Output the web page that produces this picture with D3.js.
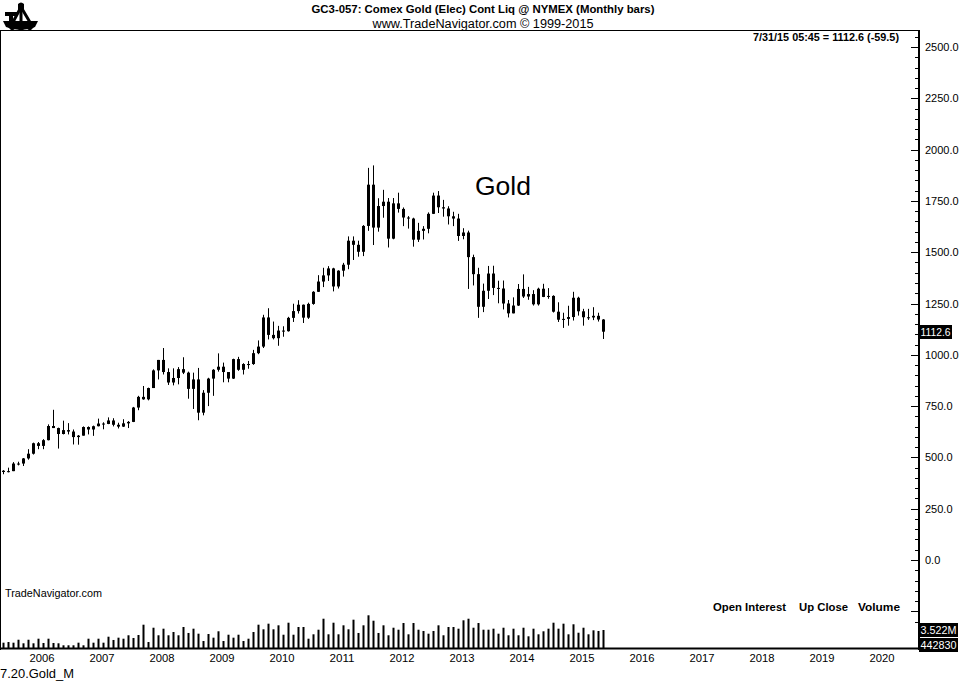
<!DOCTYPE html>
<html><head><meta charset="utf-8">
<script src="https://cdn.jsdelivr.net/npm/d3@7/dist/d3.min.js"></script>
<style>
html,body{margin:0;padding:0;background:#fff;}
svg{display:block;font-family:"Liberation Sans",Arial,sans-serif;}
</style></head>
<body>
<svg id="chart" width="967" height="681"></svg>
<script>
// ---------- DATA ----------
const startYear = 2005, startMonth = 7; // first bar: Jul 2005
const months = [
 "2005-07","2005-08","2005-09","2005-10","2005-11","2005-12",
 "2006-01","2006-02","2006-03","2006-04","2006-05","2006-06","2006-07","2006-08","2006-09","2006-10","2006-11","2006-12",
 "2007-01","2007-02","2007-03","2007-04","2007-05","2007-06","2007-07","2007-08","2007-09","2007-10","2007-11","2007-12",
 "2008-01","2008-02","2008-03","2008-04","2008-05","2008-06","2008-07","2008-08","2008-09","2008-10","2008-11","2008-12",
 "2009-01","2009-02","2009-03","2009-04","2009-05","2009-06","2009-07","2009-08","2009-09","2009-10","2009-11","2009-12",
 "2010-01","2010-02","2010-03","2010-04","2010-05","2010-06","2010-07","2010-08","2010-09","2010-10","2010-11","2010-12",
 "2011-01","2011-02","2011-03","2011-04","2011-05","2011-06","2011-07","2011-08","2011-09","2011-10","2011-11","2011-12",
 "2012-01","2012-02","2012-03","2012-04","2012-05","2012-06","2012-07","2012-08","2012-09","2012-10","2012-11","2012-12",
 "2013-01","2013-02","2013-03","2013-04","2013-05","2013-06","2013-07","2013-08","2013-09","2013-10","2013-11","2013-12",
 "2014-01","2014-02","2014-03","2014-04","2014-05","2014-06","2014-07","2014-08","2014-09","2014-10","2014-11","2014-12",
 "2015-01","2015-02","2015-03","2015-04","2015-05","2015-06","2015-07"
];
const open = [
 435,429,433,470,470,495,
 518,569,556,584,653,643,614,633,626,599,606,648,
 636,652,665,663,680,659,650,666,673,743,795,783,
 838,924,975,916,865,887,930,913,834,880,718,815,
 884,927,942,916,884,979,927,955,955,1008,1040,1182,
 1097,1081,1118,1115,1180,1213,1244,1181,1248,1307,1357,1387,
 1421,1333,1410,1439,1556,1536,1502,1628,1829,1620,1725,1746,
 1566,1738,1711,1669,1664,1561,1604,1614,1687,1776,1719,1713,
 1675,1664,1579,1596,1476,1393,1234,1312,1396,1326,1323,1250,
 1202,1240,1321,1284,1296,1246,1322,1282,1287,1210,1171,1175,
 1184,1278,1212,1183,1182,1190,1172
];
const high = [
 438,450,477,479,497,540,
 572,575,589,661,732,645,679,667,636,609,651,651,
 655,689,671,695,691,669,686,677,746,800,848,840,
 929,975,1033,934,934,940,988,918,913,936,828,888,
 930,1007,962,912,981,990,959,970,1024,1070,1195,1227,
 1162,1141,1139,1185,1249,1266,1245,1254,1310,1388,1424,1432,
 1424,1412,1448,1577,1577,1556,1632,1911,1923,1763,1804,1764,
 1764,1790,1718,1676,1668,1643,1627,1694,1790,1798,1755,1724,
 1697,1687,1617,1605,1488,1424,1347,1433,1434,1361,1362,1267,
 1280,1345,1392,1331,1315,1327,1346,1325,1290,1256,1205,1239,
 1307,1283,1224,1224,1232,1205,1174
];
const low = [
 418,427,433,461,458,489,
 514,540,540,583,643,543,612,612,563,562,606,612,
 605,651,637,662,651,641,648,643,672,730,781,778,
 838,880,904,853,851,856,906,786,736,681,705,750,
 800,918,866,866,882,922,904,932,951,1003,1033,1075,
 1075,1044,1088,1113,1160,1201,1155,1175,1244,1306,1330,1360,
 1309,1323,1381,1417,1462,1478,1481,1604,1535,1600,1668,1523,
 1563,1693,1627,1615,1527,1550,1562,1592,1686,1691,1673,1635,
 1627,1555,1563,1321,1338,1180,1208,1272,1291,1251,1221,1182,
 1202,1238,1277,1268,1240,1240,1281,1273,1206,1160,1131,1142,
 1167,1191,1142,1170,1169,1162,1077
];
const close = [
 429,433,470,470,495,518,
 569,556,584,653,643,614,633,626,599,606,648,636,
 652,665,663,680,659,650,666,673,743,795,783,838,
 924,975,916,865,887,930,913,834,880,718,815,884,
 927,942,916,884,979,927,955,955,1008,1040,1182,1097,
 1081,1118,1115,1180,1213,1244,1181,1248,1307,1357,1387,1421,
 1333,1410,1439,1556,1536,1502,1628,1829,1620,1725,1746,1566,
 1738,1711,1669,1664,1561,1604,1614,1687,1776,1719,1713,1675,
 1664,1579,1596,1476,1393,1234,1312,1396,1326,1323,1250,1202,
 1240,1321,1284,1296,1246,1322,1282,1287,1210,1171,1175,1184,
 1278,1212,1183,1182,1190,1172,1112.6
];
// monthly volume, millions of contracts
const volume = [
 1.04,1.17,1.04,1.62,0.92,1.62,0.92,1.82,0.98,1.82,0.98,0.92,0.53,0.53,0.53,1.04,0.53,1.82,
 1.04,1.82,1.04,2.21,1.57,2.02,1.82,2.49,1.96,2.54,
 4.56,1.17,3.97,2.49,3.78,2.49,3.13,2.49,4.11,2.94,3.78,2.80,1.37,2.74,2.02,3.27,1.37,2.60,
 2.02,2.60,1.37,1.82,3.13,4.56,3.66,4.76,3.66,4.44,2.60,4.95,2.60,4.11,
 4.11,1.82,2.68,3.58,5.73,2.68,4.95,2.68,4.44,3.66,5.54,2.94,4.44,6.40,5.34,2.94,4.44,2.49,
 3.97,3.58,4.89,2.68,4.89,3.58,3.33,2.80,3.33,4.44,2.49,4.11,4.11,3.78,5.42,5.73,3.97,4.89,
 3.58,3.58,3.78,2.80,3.97,2.49,3.78,2.49,3.97,2.29,3.78,2.68,3.27,3.78,4.95,3.78,4.76,2.68,
 4.64,2.99,3.97,2.68,3.46,3.33,3.522
];
const priceTicks = [0,250,500,750,1000,1250,1500,1750,2000,2250,2500];
const yearLabels = [2006,2007,2008,2009,2010,2011,2012,2013,2014,2015,2016,2017,2018,2019,2020];
const lastPrice = 1112.6, lastChange = -59.5, lastOI = 442830;

// ---------- SCALES ----------
const monthIndex = s => { const [y,m] = s.split("-").map(Number); return y*12 + (m-1); };
const idx0 = startYear*12 + (startMonth-1);
const x = d3.scaleLinear().domain([idx0, idx0 + 182]).range([3, 3 + 5*182]);
const y = d3.scaleLinear().domain([0, 2500]).range([560, 47]);
const yv = d3.scaleLinear().domain([0, 1]).range([648, 648 - 5.11]);

const svg = d3.select("#chart");
svg.append("rect").attr("width",967).attr("height",681).attr("fill","#fff");

const data = months.map((m,i)=>({m, xi: monthIndex(m), o:open[i], h:high[i], l:low[i], c:close[i], v:volume[i]}));

// ---------- FRAME ----------
const axisX = 919;
svg.append("line").attr("x1",0).attr("x2",axisX).attr("y1",30.5).attr("y2",30.5).attr("stroke","#000").attr("stroke-width",1);
svg.append("line").attr("x1",0.5).attr("x2",0.5).attr("y1",30).attr("y2",650).attr("stroke","#000").attr("stroke-width",1);
svg.append("line").attr("x1",0).attr("x2",axisX+1).attr("y1",648.5).attr("y2",648.5).attr("stroke","#000").attr("stroke-width",2);
svg.append("line").attr("x1",axisX).attr("x2",axisX).attr("y1",30).attr("y2",650).attr("stroke","#000").attr("stroke-width",2);

// right axis ticks every 50
const tickVals = d3.range(-300, 2551, 50);
svg.append("g").selectAll("line").data(tickVals).join("line")
  .attr("x1", d => d % 250 === 0 ? axisX-8 : axisX-4)
  .attr("x2", axisX)
  .attr("y1", d => Math.round(y(d))+0.5).attr("y2", d => Math.round(y(d))+0.5)
  .attr("stroke","#000").attr("stroke-width",1);

svg.append("g").selectAll("text").data(priceTicks).join("text")
  .attr("x", 925).attr("y", d => y(d)+4)
  .attr("font-size",11).attr("fill","#000")
  .text(d => d3.format(".1f")(d));

// ---------- CANDLES ----------
const cg = svg.append("g");
cg.selectAll("line").data(data).join("line")
  .attr("x1", d => x(d.xi)+0.5).attr("x2", d => x(d.xi)+0.5)
  .attr("y1", d => y(d.h)).attr("y2", d => y(d.l))
  .attr("stroke","#000").attr("stroke-width",1);
cg.selectAll("rect").data(data).join("rect")
  .attr("x", d => x(d.xi)-1).attr("width",3)
  .attr("y", d => y(Math.max(d.o,d.c)))
  .attr("height", d => Math.max(1, Math.abs(y(d.o)-y(d.c))))
  .attr("fill","#000");

// ---------- VOLUME ----------
svg.append("g").selectAll("rect").data(data).join("rect")
  .attr("x", d => x(d.xi)-0.5).attr("width",2)
  .attr("y", d => yv(d.v)).attr("height", d => 648 - yv(d.v))
  .attr("fill","#000");

// ---------- X LABELS ----------
svg.append("g").selectAll("text").data(yearLabels).join("text")
  .attr("x", d => x(d*12) + 9).attr("y", 662)
  .attr("text-anchor","middle").attr("font-size",11.5).attr("fill","#000")
  .attr("textLength",25).attr("lengthAdjust","spacingAndGlyphs")
  .text(d => d);

// ---------- VALUE BOXES ----------
function box(yc, txt, w){
  svg.append("rect").attr("x",axisX).attr("y",yc-7).attr("width",w).attr("height",14).attr("fill","#000");
  svg.append("text").attr("x",axisX+1.5).attr("y",yc+4).attr("font-size",11).attr("fill","#fff")
    .attr("textLength",w-3).attr("lengthAdjust","spacingAndGlyphs").text(txt);
}
box(Math.round(y(lastPrice)), d3.format(".1f")(lastPrice), 33);
box(Math.round(yv(volume[volume.length-1])), (volume[volume.length-1]).toFixed(3)+"M", 39);
box(Math.round(yv(volume[volume.length-1]))+15, String(lastOI), 39);

// ---------- TEXTS ----------
svg.append("text").attr("x",483).attr("y",13).attr("text-anchor","middle").attr("font-size",11.5).attr("font-weight","bold")
  .attr("textLength",343).attr("lengthAdjust","spacingAndGlyphs")
  .text("GC3-057:  Comex Gold (Elec) Cont Liq @ NYMEX  (Monthly bars)");
svg.append("text").attr("x",483).attr("y",28).attr("text-anchor","middle").attr("font-size",12.5)
  .attr("textLength",221).attr("lengthAdjust","spacingAndGlyphs")
  .text("www.TradeNavigator.com © 1999-2015");
svg.append("text").attr("x",899).attr("y",41).attr("text-anchor","end").attr("font-size",11).attr("font-weight","bold")
  .attr("textLength",146).attr("lengthAdjust","spacingAndGlyphs")
  .text("7/31/15 05:45 = " + lastPrice + " (" + lastChange + ")");
svg.append("text").attr("x",475).attr("y",195).attr("font-size",26.5).attr("fill","#000").text("Gold");
svg.append("text").attr("x",5).attr("y",597).attr("font-size",11.5)
  .attr("textLength",97).attr("lengthAdjust","spacingAndGlyphs").text("TradeNavigator.com");
[["Open Interest",713,73],["Up Close",799,49],["Volume",858,42]].forEach(([t,x0,w])=>{
  svg.append("text").attr("x",x0).attr("y",611).attr("font-size",11.5).attr("font-weight","bold")
    .attr("textLength",w).attr("lengthAdjust","spacingAndGlyphs").text(t);
});
svg.append("text").attr("x",0).attr("y",678).attr("font-size",12.5)
  .attr("textLength",74).attr("lengthAdjust","spacingAndGlyphs").text("7.20.Gold_M");

// ---------- LOGO ----------
const lg = svg.append("g").attr("fill","#000");
lg.append("path").attr("d","M18,10 L18,4 Q21,1 24,4 L24,10 Z");
lg.append("rect").attr("x",19.5).attr("y",8).attr("width",3).attr("height",16);
lg.append("rect").attr("x",5).attr("y",12).attr("width",13).attr("height",4);
lg.append("rect").attr("x",9).attr("y",12).attr("width",4).attr("height",9);
lg.append("path").attr("d","M12,24 L21,7 L31,24").attr("fill","none").attr("stroke","#000").attr("stroke-width",3);
lg.append("path").attr("d","M3,21 L38,21 L35,27 Q21,33 6,27 Z");
lg.append("path").attr("d","M8,27 L12,31 L16,28 L21,31 L26,28 L30,31 L34,27 Z");
</script>
</body></html>
